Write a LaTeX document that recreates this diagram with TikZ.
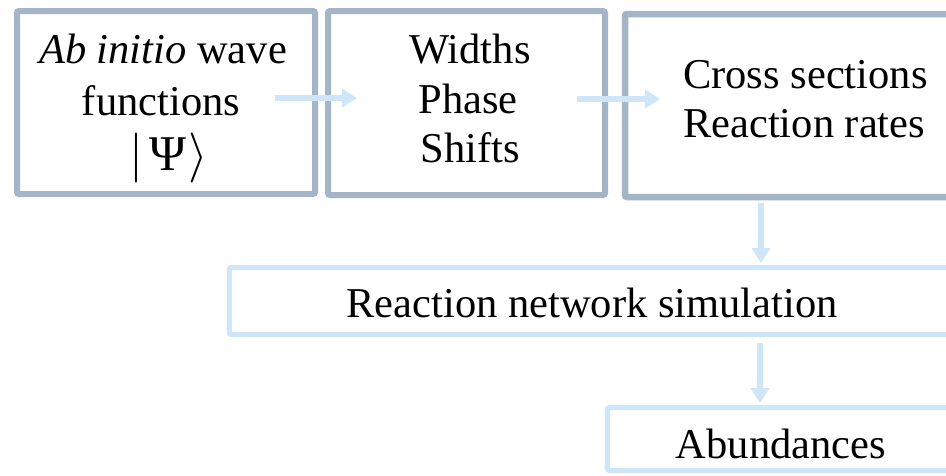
\RequirePackage{fix-cm}
\documentclass[tikz,border=0pt]{standalone}
\usepackage{amsmath}
\usepackage{fontspec}
\setmainfont{Liberation Serif}
\usetikzlibrary{arrows.meta}
\definecolor{greyb}{HTML}{A3B5C6}
\definecolor{lblue}{HTML}{CFE6F8}
\begin{document}
\begin{tikzpicture}[x=1pt,y=-1pt,
  darkbox/.style={draw=greyb,line width=6pt,rounded corners=2pt,rectangle,inner sep=0pt},
  lightbox/.style={draw=lblue,line width=5pt,rounded corners=2pt,rectangle,inner sep=0pt},
  txt/.style={font=\fontsize{42.5}{49}\selectfont,inner sep=0pt,anchor=base},
  flow/.style={draw=lblue,line width=6pt,-{Triangle[width=18pt,length=15pt]}}]
\useasboundingbox (0,0) rectangle (946,475);
\clip (0,0) rectangle (946,475);
\fill[white] (0,0) rectangle (946,475);

% boxes
\node[darkbox,minimum width=298pt,minimum height=183pt] (b1) at (166,102.5) {};
\node[darkbox,minimum width=277pt,minimum height=184pt] (b2) at (466.5,103) {};
\node[darkbox,line width=6.5pt,minimum width=340pt,minimum height=183pt] (b3) at (795,105.5) {};
\node[lightbox,minimum width=751pt,minimum height=67pt] (b4) at (604.75,301) {};
\node[lightbox,minimum width=373pt,minimum height=63pt] (b5) at (793.75,439) {};

% texts
\node[txt] (t1a) at (163,63) {\textit{Ab initio} wave};
\node[txt] (t1b) at (161,115) {functions};
\node[txt,anchor=center,font=\fontsize{50}{56}\selectfont] (t1c) at (169,158) {$|\mkern2mu\text{Ψ}\mkern1mu\rangle$};
\node[txt] (t2a) at (470,63) {Widths};
\node[txt] (t2b) at (468,113) {Phase};
\node[txt] (t2c) at (470,162) {Shifts};
\node[txt,anchor=base west] (t3a) at (683,88) {Cross sections};
\node[txt,anchor=base west] (t3b) at (683,137) {Reaction rates};
\node[txt] (t4) at (592,317) {Reaction network simulation};
\node[txt] (t5) at (781,458) {Abundances};

% connector ends
\coordinate (a1s) at (275,98);
\coordinate (a1e) at (357,98);
\coordinate (a2s) at (577,99);
\coordinate (a2e) at (660,99);
\coordinate (a3s) at (761,203);
\coordinate (a3e) at (761,263);
\coordinate (a4s) at (760,343);
\coordinate (a4e) at (760,403);

\draw[flow] (a1s) -- (a1e);
\draw[flow] (a2s) -- (a2e);
\draw[flow] (a3s) -- (a3e);
\draw[flow] (a4s) -- (a4e);
\end{tikzpicture}
\end{document}
